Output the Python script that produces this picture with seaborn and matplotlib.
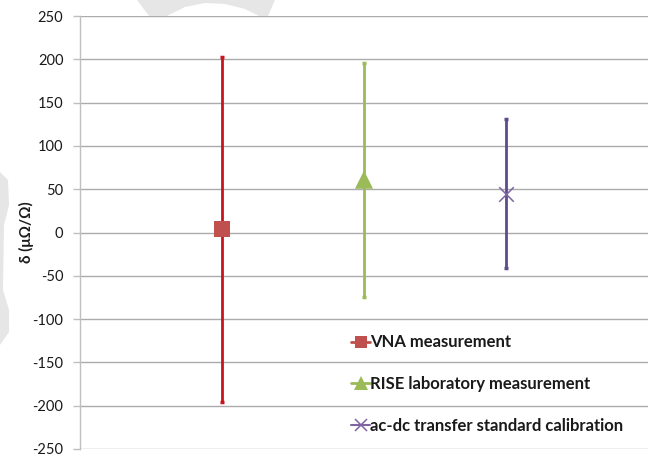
import matplotlib
matplotlib.use("Agg")
import matplotlib.pyplot as plt
from matplotlib.lines import Line2D
from matplotlib.patches import Polygon
import seaborn as sns
import pandas as pd

# Measured relative deviation and expanded uncertainty per method
series = ["VNA measurement", "RISE laboratory measurement",
          "ac-dc transfer standard calibration"]
delta = [3.6, 61, 45]
uncertainty = [199, 135, 86]
y_ticks = [-250, -200, -150, -100, -50, 0, 50, 100, 150, 200, 250]

marker_colors = ["#C0504D", "#9BBB59", "#8064A2"]
bar_colors = ["#C8141E", "#9BBB59", "#5F4B8B"]
marker_shapes = ["s", "^", "x"]
marker_sizes = [130, 170, 110]

df = pd.DataFrame({"series": series, "delta": delta, "u": uncertainty})
df["pos"] = range(1, len(df) + 1)

sns.set_theme(style="white")
plt.rcParams["font.family"] = ["Lato", "DejaVu Sans"]

W, H = 648, 457
fig = plt.figure(figsize=(W / 100, H / 100), dpi=100, facecolor="white")
ax = fig.add_axes([80 / W, 1 - 449 / H, 1 - 80 / W, (449 - 16) / H])
ax.set_facecolor("white")

# faint background logo fragments around the plot area
def px_poly(pts):
    return Polygon([(x / W, 1 - y / H) for x, y in pts], closed=True,
                   transform=fig.transFigure, facecolor="#E6E6E6",
                   edgecolor="none", zorder=-5)

fig.add_artist(px_poly([(137, 0), (275, 0), (268, 16), (259, 16), (245, 9),
                        (225, 4), (205, 3), (185, 7), (167, 16), (149, 16)]))
fig.add_artist(px_poly([(0, 172), (8, 180), (9, 205), (4, 225), (3, 290),
                        (9, 310), (9, 332), (0, 345)]))

# uncertainty bars and markers, one series at a time
for i, row in df.iterrows():
    ax.errorbar(row["pos"], row["delta"], yerr=row["u"], fmt="none",
                ecolor=bar_colors[i], elinewidth=2.0, capsize=1.6,
                capthick=2.5, zorder=2)
    sub = df.iloc[[i]]
    filled = marker_shapes[i] != "x"
    sns.scatterplot(data=sub, x="pos", y="delta", color=marker_colors[i],
                    marker=marker_shapes[i], s=marker_sizes[i],
                    linewidth=0 if filled else 1.1,
                    edgecolor="none" if filled else marker_colors[i],
                    legend=False, ax=ax, zorder=3)

ax.set_xlim(0, 4)
ax.set_ylim(-250, 250)
ax.set_yticks(y_ticks)
ax.set_yticklabels([str(v) for v in y_ticks], fontsize=10.5, color="#1a1a1a")
ax.set_xticks([])
ax.set_xlabel("")
ax.set_ylabel("δ (μΩ/Ω)", fontsize=11, fontweight="bold", color="#1a1a1a")
ax.yaxis.set_label_coords(-(80 - 34) / (W - 80), 0.5)

ax.grid(axis="y", color="#ABABAB", linewidth=1.0)
ax.set_axisbelow(True)
for s in ["top", "right", "bottom"]:
    ax.spines[s].set_visible(False)
ax.spines["left"].set_color("#BFBFBF")
ax.spines["left"].set_linewidth(1.0)
ax.tick_params(axis="y", which="major", left=True, length=5, width=1,
               color="#BFBFBF", pad=7)

handles = [
    Line2D([0], [0], color=marker_colors[0], marker="s", markersize=9,
           linewidth=2, markeredgewidth=0),
    Line2D([0], [0], color=marker_colors[1], marker="^", markersize=10,
           linewidth=2, markeredgewidth=0),
    Line2D([0], [0], color=marker_colors[2], marker="x", markersize=8,
           linewidth=1.5, markeredgewidth=1.1),
]
leg = ax.legend(handles, series, loc="upper left",
                bbox_to_anchor=(343 / W, 1 - 326 / H),
                bbox_transform=fig.transFigure, frameon=False,
                handlelength=1.1, handletextpad=0.05, labelspacing=1.55,
                borderpad=0, prop={"size": 12.0, "weight": "bold"})
for t in leg.get_texts():
    t.set_color("#1a1a1a")

fig.savefig("out.png", dpi=100, facecolor="white")
